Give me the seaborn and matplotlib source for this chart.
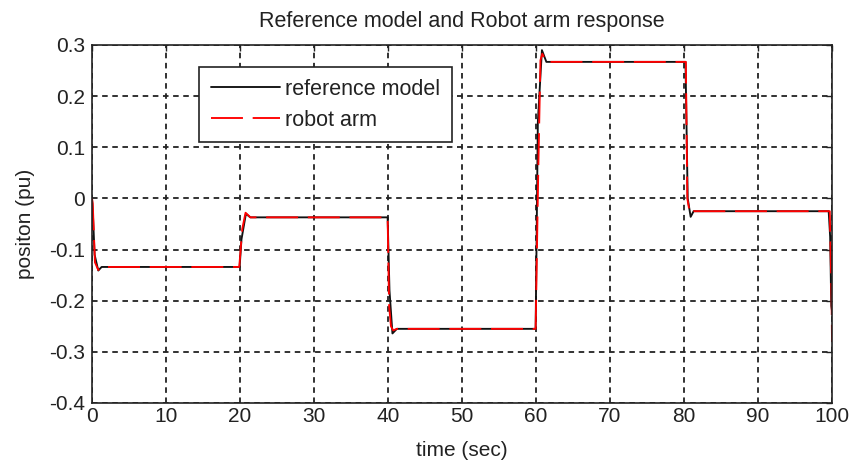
import numpy as np
import pandas as pd
import matplotlib
matplotlib.use("Agg")
import matplotlib.pyplot as plt
import seaborn as sns

# ---- data ----
ref_time = [0.0, 0.15, 0.35, 0.85, 1.3, 19.95, 20.2, 20.8, 21.4,
            39.95, 40.2, 40.6, 41.2, 59.95, 60.25, 60.8, 61.4,
            80.2, 80.5, 80.9, 81.3, 99.55, 99.75, 99.9, 100.0]
ref_pos = [0.0, -0.04, -0.11, -0.141, -0.134, -0.134, -0.08, -0.030, -0.037,
           -0.037, -0.18, -0.264, -0.255, -0.255, 0.15, 0.290, 0.267,
           0.267, 0.0, -0.036, -0.025, -0.025, -0.075, -0.21, -0.22]

robot_time = [0.0, 0.1, 0.4, 0.85, 1.3, 19.9, 20.3, 20.75, 21.4,
              39.95, 40.15, 40.4, 40.7, 41.2, 59.95, 60.3, 60.6, 60.85, 61.4,
              80.25, 80.45, 80.8, 81.3, 99.7, 99.95, 100.0]
robot_pos = [0.0, -0.01, -0.125, -0.14, -0.134, -0.134, -0.06, -0.028, -0.037,
             -0.037, -0.21, -0.25, -0.258, -0.255, -0.255, 0.05, 0.27, 0.283, 0.267,
             0.267, 0.0, -0.03, -0.025, -0.025, -0.20, -0.28]

series_names = ["reference model", "robot arm"]
x_ticks = [0, 10, 20, 30, 40, 50, 60, 70, 80, 90, 100]
y_ticks = [-0.4, -0.3, -0.2, -0.1, 0, 0.1, 0.2, 0.3]
y_tick_labels = ["-0.4", "-0.3", "-0.2", "-0.1", "0", "0.1", "0.2", "0.3"]

df = pd.concat([
    pd.DataFrame({"time": ref_time, "pos": ref_pos, "series": series_names[0]}),
    pd.DataFrame({"time": robot_time, "pos": robot_pos, "series": series_names[1]}),
], ignore_index=True)

sns.set_style("white")
plt.rcParams["font.family"] = ["Liberation Sans", "DejaVu Sans"]
plt.rcParams["lines.scale_dashes"] = False

fig = plt.figure(figsize=(8.49, 4.70), dpi=100)
ax = fig.add_axes([92 / 849, 1 - 403 / 470, 740 / 849, 358 / 470])

sns.lineplot(data=df, x="time", y="pos", hue="series", style="series",
             palette={"reference model": "#111111", "robot arm": "#ff0000"},
             dashes={"reference model": "", "robot arm": (23, 7)},
             estimator=None, sort=False, linewidth=1.35, ax=ax)

ax.set_xlim(0, 100)
ax.set_ylim(-0.4, 0.3)
ax.set_xticks(x_ticks)
ax.set_yticks(y_ticks)
ax.set_yticklabels(y_tick_labels)
ax.grid(True, color="#222222", linestyle=(0, (4, 3.3)), linewidth=1.3)
ax.set_axisbelow(True)

for s in ax.spines.values():
    s.set_color("#222222")
    s.set_linewidth(1.2)

ax.tick_params(direction="in", length=4.5, width=1.0, top=True, right=True,
               labelsize=15, colors="#222222", labelcolor="#222222", pad=3)
ax.tick_params(axis="y", pad=5)

ax.set_xlabel("time (sec)", fontsize=15, color="#222222", labelpad=11)
ax.set_ylabel("positon (pu)", fontsize=15, color="#222222", labelpad=10)
ax.set_title("Reference model and Robot arm response", fontsize=15.5,
             color="#222222", pad=13)

handles, labels = ax.get_legend_handles_labels()
leg = ax.legend(handles, labels, loc="upper left",
                bbox_to_anchor=((199 - 92) / 740, (403 - 67) / 358),
                borderaxespad=0, fontsize=15.5, frameon=True, fancybox=False,
                framealpha=1, edgecolor="#222222", handlelength=3.2,
                handletextpad=0.25, borderpad=0.55, labelspacing=0.45)
leg.get_frame().set_linewidth(1.2)
for t in leg.get_texts():
    t.set_color("#222222")

fig.savefig("out.png", dpi=100, facecolor="white")
